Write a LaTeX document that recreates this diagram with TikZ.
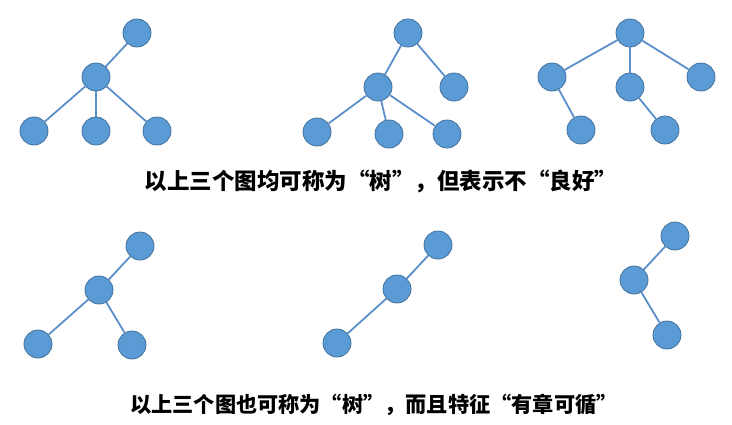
\documentclass[tikz,border=0pt]{standalone}
\usepackage{fontspec}
\newfontfamily\cjk{Noto Sans CJK SC}[CharacterWidth=Full]
\definecolor{nodefill}{HTML}{5B9BD5}
\definecolor{nodeedge}{HTML}{41719C}
\definecolor{edgecol}{HTML}{5B8FCB}
\begin{document}
\begin{tikzpicture}[x=1pt,y=-1pt,
  tn/.style={circle,fill=nodefill,draw=nodeedge,line width=0.8pt,minimum size=28pt,inner sep=0pt},
  te/.style={draw=edgecol,line width=1.8pt},
  captext/.style={font=\cjk\bfseries\fontsize{#1}{26}\selectfont,inner sep=0pt}]
\useasboundingbox (0,0) rectangle (732,424);
% Tree 1
\node[tn] (a1) at (137,33) {};
\node[tn] (a2) at (96,77) {};
\node[tn] (a3) at (34,131) {};
\node[tn] (a4) at (96,131) {};
\node[tn] (a5) at (157,131) {};
% Tree 2
\node[tn] (b1) at (408,33) {};
\node[tn] (b2) at (378,87) {};
\node[tn] (b3) at (454,87) {};
\node[tn] (b4) at (317,132) {};
\node[tn] (b5) at (389,134) {};
\node[tn] (b6) at (447,134) {};
% Tree 3
\node[tn] (c1) at (630,33) {};
\node[tn] (c2) at (552,77) {};
\node[tn] (c3) at (630,87) {};
\node[tn] (c4) at (701,77) {};
\node[tn] (c5) at (581,130) {};
\node[tn] (c6) at (665,130) {};
% Tree 4
\node[tn] (d1) at (140,246) {};
\node[tn] (d2) at (99,290) {};
\node[tn] (d3) at (38,344) {};
\node[tn] (d4) at (132,345) {};
% Tree 5
\node[tn] (e1) at (438,245) {};
\node[tn] (e2) at (397,289) {};
\node[tn] (e3) at (337,343) {};
% Tree 6
\node[tn] (f1) at (675,236) {};
\node[tn] (f2) at (634,280) {};
\node[tn] (f3) at (667,335) {};
% edges
\draw[te] (a1) -- (a2); \draw[te] (a2) -- (a3); \draw[te] (a2) -- (a4); \draw[te] (a2) -- (a5);
\draw[te] (b1) -- (b2); \draw[te] (b1) -- (b3); \draw[te] (b2) -- (b4); \draw[te] (b2) -- (b5); \draw[te] (b2) -- (b6);
\draw[te] (c1) -- (c2); \draw[te] (c1) -- (c3); \draw[te] (c1) -- (c4); \draw[te] (c2) -- (c5); \draw[te] (c3) -- (c6);
\draw[te] (d1) -- (d2); \draw[te] (d2) -- (d3); \draw[te] (d2) -- (d4);
\draw[te] (e1) -- (e2); \draw[te] (e2) -- (e3);
\draw[te] (f1) -- (f2); \draw[te] (f2) -- (f3);
% captions
\node[captext=22.5] (t1) at (381,181) {以上三个图均可称为“树”，但表示不“良好”};
\node[captext=21.2] (t2) at (374,405) {以上三个图也可称为“树”，而且特征“有章可循”};
\end{tikzpicture}
\end{document}
